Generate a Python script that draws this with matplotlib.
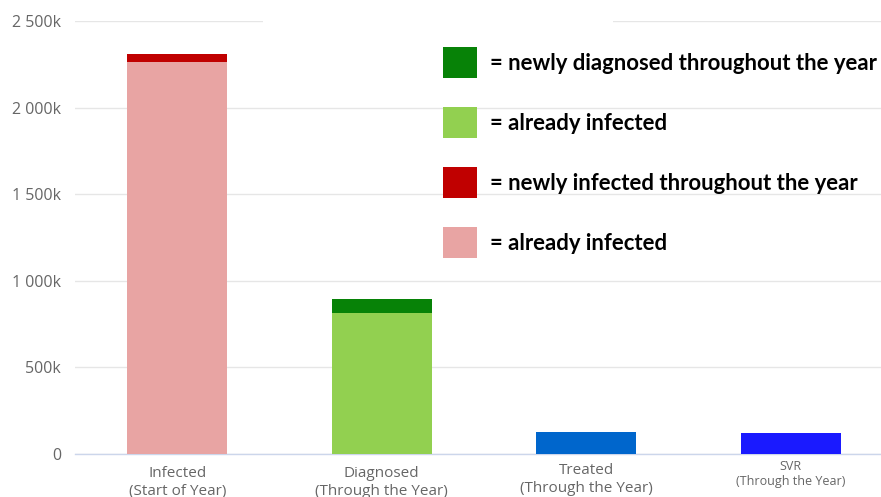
import matplotlib
matplotlib.use("Agg")
import matplotlib.pyplot as plt
from matplotlib.patches import Rectangle
from matplotlib.ticker import FuncFormatter

categories = ["Infected\n(Start of Year)", "Diagnosed\n(Through the Year)",
              "Treated\n(Through the Year)", "SVR\n(Through the Year)"]
base_values = [2265, 815, 127, 121]          # thousands
top_values = [45, 80, 0, 0]                  # thousands
base_colors = ["#e8a4a3", "#92d050", "#0066cc", "#1a1aff"]
top_colors = ["#c00000", "#078207", "#0066cc", "#1a1aff"]
yticks = [0, 500, 1000, 1500, 2000, 2500]

legend_labels = ["= newly diagnosed throughout the year", "= already infected",
                 "= newly infected throughout the year", "= already infected"]
legend_colors = ["#078207", "#92d050", "#c00000", "#e8a4a3"]

W, H = 881, 497
fig = plt.figure(figsize=(W / 100, H / 100), dpi=100)
fig.patch.set_facecolor("white")

left, right = 75, 893
bottom, top = 453.7, 21
ax = fig.add_axes([left / W, 1 - bottom / H, (right - left) / W, (bottom - top) / H])
ax.set_xlim(-0.5, 3.5)
ax.set_ylim(0, 2500)

x = list(range(len(categories)))
ax.bar(x, base_values, width=0.49, color=base_colors, zorder=3, linewidth=0)
ax.bar(x, top_values, width=0.49, bottom=base_values, color=top_colors, zorder=3, linewidth=0)

ax.set_yticks(yticks)
ax.yaxis.set_major_formatter(FuncFormatter(
    lambda v, p: "0" if v == 0 else (f"{int(v):,}k".replace(",", " "))))
ax.yaxis.grid(True, color="#e6e6e6", linewidth=1, zorder=0)
ax.set_axisbelow(True)
for s in ["top", "right", "left"]:
    ax.spines[s].set_visible(False)
ax.spines["bottom"].set_color("#ccd6eb")
ax.spines["bottom"].set_linewidth(1)
ax.tick_params(axis="y", length=0, pad=10, labelsize=11.5, labelcolor="#666666")
ax.tick_params(axis="x", length=0)
ax.set_xticks(x)
ax.set_xticklabels([])
for lbl in ax.get_yticklabels():
    lbl.set_fontfamily(["Open Sans", "DejaVu Sans"])

# category labels, centred under each bar
label_sizes = [11, 11, 11, 9]
label_y = [466, 466, 463, 460]
for i, cat in enumerate(categories):
    xf = (left + (i + 0.5) * (right - left) / 4) / W
    fig.text(xf, 1 - label_y[i] / H, cat, ha="center", va="top",
             fontsize=label_sizes[i], color="#666666",
             family=["Open Sans", "DejaVu Sans"], linespacing=1.25)

# white box that hides part of the top gridline
fig.patches.append(Rectangle((263 / W, 1 - 30 / H), (613 - 263) / W, 15 / H,
                             transform=fig.transFigure, facecolor="white",
                             edgecolor="none", zorder=5))

# legend-like annotations
sq_centers = [62, 122, 182, 242]
for yc, lab, col in zip(sq_centers, legend_labels, legend_colors):
    fig.patches.append(Rectangle((443 / W, 1 - (yc + 15.5) / H), 34 / W, 31 / H,
                                 transform=fig.transFigure, facecolor=col,
                                 edgecolor="none", zorder=6))
    fig.text(490 / W, 1 - (yc + 1) / H, lab, ha="left", va="center", fontsize=15.9,
             fontweight="bold", color="black", family=["Lato", "DejaVu Sans"],
             zorder=7)

fig.savefig("out.png", dpi=100, facecolor="white")
